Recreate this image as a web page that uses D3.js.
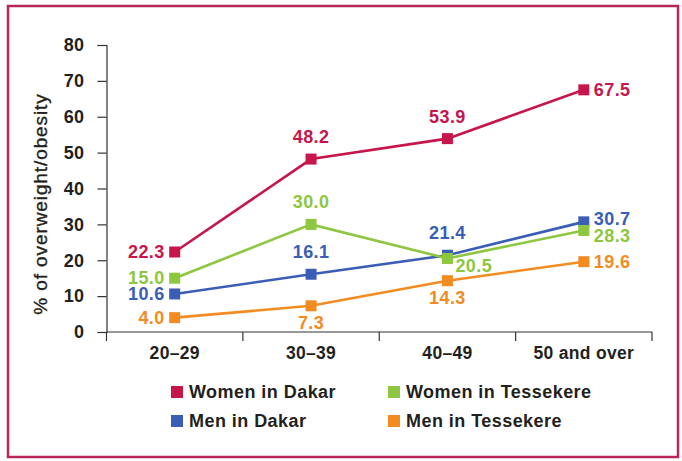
<!DOCTYPE html>
<html>
<head>
<meta charset="utf-8">
<script src="https://cdn.jsdelivr.net/npm/d3@7"></script>
<style>
  html, body { margin: 0; padding: 0; background: #fff; }
  svg { display: block; }
  text { font-family: "Liberation Sans", Arial, Helvetica, sans-serif; }
</style>
</head>
<body>
<svg id="chart" width="682" height="461"></svg>
<script>
// ---- data ----
const categories = ["20\u201329", "30\u201339", "40\u201349", "50 and over"];
const seriesNames = ["Women in Dakar", "Women in Tessekere", "Men in Dakar", "Men in Tessekere"];
const womenDakar = [22.3, 48.2, 53.9, 67.5];
const womenTessekere = [15.0, 30.0, 20.5, 28.3];
const menDakar = [10.6, 16.1, 21.4, 30.7];
const menTessekere = [4.0, 7.3, 14.3, 19.6];
const yTicks = [0, 10, 20, 30, 40, 50, 60, 70, 80];
const yLabel = "% of overweight/obesity";
// label placement per series per category
const womenDakarPos = ["left", "above", "above", "right"];
const womenTessekerePos = ["left", "above", "belowright", "rightlow"];
const menDakarPos = ["left", "above", "above", "righthigh"];
const menTessekerePos = ["left", "below", "below", "right"];

const colors = ["#C6164B", "#8DC63F", "#3A5DB6", "#F28C22"];
const seriesValues = [womenDakar, womenTessekere, menDakar, menTessekere];
const seriesPos = [womenDakarPos, womenTessekerePos, menDakarPos, menTessekerePos];

// draw order: bottom first
const drawOrder = [3, 2, 1, 0];

const svg = d3.select("#chart");

// frame
svg.append("rect")
  .attr("x", 8).attr("y", 6).attr("width", 670).attr("height", 451)
  .attr("fill", "none").attr("stroke", "#B8265A").attr("stroke-width", 2.5);

const plotLeft = 106.5, plotRight = 652, plotTop = 45, plotBottom = 332;

const x = d3.scaleBand().domain(categories).range([plotLeft, plotRight]).padding(0);
const y = d3.scaleLinear().domain([0, 80]).range([plotBottom, plotTop]);

// y axis
const yAxis = d3.axisLeft(y).tickValues(yTicks).tickSize(9).tickPadding(13).tickFormat(d3.format("d"));
const gy = svg.append("g").attr("transform", `translate(${plotLeft},0)`).call(yAxis);
gy.select(".domain").attr("stroke", "#333").attr("stroke-width", 1.2);
gy.selectAll(".tick line").attr("stroke", "#333").attr("stroke-width", 1.2);
gy.selectAll(".tick text")
  .attr("fill", "#231F20").attr("font-size", 18).attr("font-weight", "bold")
  .attr("letter-spacing", 0.4)
  .attr("font-family", "'Liberation Sans', Arial, sans-serif");

// x axis: line plus boundary ticks
const gx = svg.append("g");
gx.append("line").attr("x1", plotLeft).attr("x2", plotRight).attr("y1", plotBottom).attr("y2", plotBottom)
  .attr("stroke", "#333").attr("stroke-width", 1.2);
const boundaries = categories.map(c => x(c)).concat([x(categories[categories.length - 1]) + x.bandwidth()]);
gx.selectAll("line.b").data(boundaries).enter().append("line")
  .attr("class", "b")
  .attr("x1", d => d).attr("x2", d => d)
  .attr("y1", plotBottom).attr("y2", plotBottom + 9)
  .attr("stroke", "#333").attr("stroke-width", 1.2);
gx.selectAll("text").data(categories).enter().append("text")
  .attr("x", d => x(d) + x.bandwidth() / 2)
  .attr("y", 359)
  .attr("text-anchor", "middle")
  .attr("font-size", 17.5).attr("font-weight", "bold").attr("fill", "#231F20")
  .attr("letter-spacing", 0.3)
  .text(d => d);

// y label
svg.append("text")
  .attr("transform", `translate(47,204) rotate(-90)`)
  .attr("text-anchor", "middle")
  .attr("font-size", 19).attr("fill", "#231F20")
  .attr("stroke", "#231F20").attr("stroke-width", 0.35)
  .attr("letter-spacing", 0.9)
  .text(yLabel);

// series
const cx = c => x(c) + x.bandwidth() / 2;
const line = d3.line().x((d, i) => cx(categories[i])).y(d => y(d));
const ms = 11;

drawOrder.forEach(si => {
  const vals = seriesValues[si];
  const g = svg.append("g");
  g.append("path").datum(vals).attr("d", line)
    .attr("fill", "none").attr("stroke", colors[si]).attr("stroke-width", 2.6);
  g.selectAll("rect").data(vals).enter().append("rect")
    .attr("x", (d, i) => cx(categories[i]) - ms / 2)
    .attr("y", d => y(d) - ms / 2)
    .attr("width", ms).attr("height", ms)
    .attr("fill", colors[si]);
});

// value labels
drawOrder.forEach(si => {
  const vals = seriesValues[si];
  const pos = seriesPos[si];
  vals.forEach((v, i) => {
    const px = cx(categories[i]), py = y(v);
    let tx = px, ty = py, anchor = "middle", dy = "0.35em";
    switch (pos[i]) {
      case "left": tx = px - 10; anchor = "end"; break;
      case "right": tx = px + 10; anchor = "start"; break;
      case "righthigh": tx = px + 10; ty = py - 3; anchor = "start"; break;
      case "rightlow": tx = px + 10; ty = py + 5; anchor = "start"; break;
      case "above": ty = py - 16; dy = "0"; break;
      case "below": ty = py + 23; dy = "0"; break;
      case "belowright": tx = px + 8; ty = py + 14; anchor = "start"; dy = "0"; break;
    }
    svg.append("text")
      .attr("x", tx).attr("y", ty).attr("dy", dy)
      .attr("text-anchor", anchor)
      .attr("font-size", 18).attr("font-weight", "bold")
      .attr("letter-spacing", 0.4)
      .attr("fill", colors[si])
      .text(v.toFixed(1));
  });
});

// legend
const legendCols = [171, 388];
const legendRows = [386, 415];
seriesNames.forEach((name, i) => {
  const col = i % 2, row = Math.floor(i / 2);
  const g = svg.append("g").attr("transform", `translate(${legendCols[col]},${legendRows[row]})`);
  g.append("rect").attr("width", 12).attr("height", 12).attr("fill", colors[i]);
  g.append("text").attr("x", 18).attr("y", 11.5)
    .attr("font-size", 18).attr("font-weight", "bold").attr("fill", "#231F20")
    .attr("letter-spacing", 0.45)
    .text(name);
});
</script>
</body>
</html>
